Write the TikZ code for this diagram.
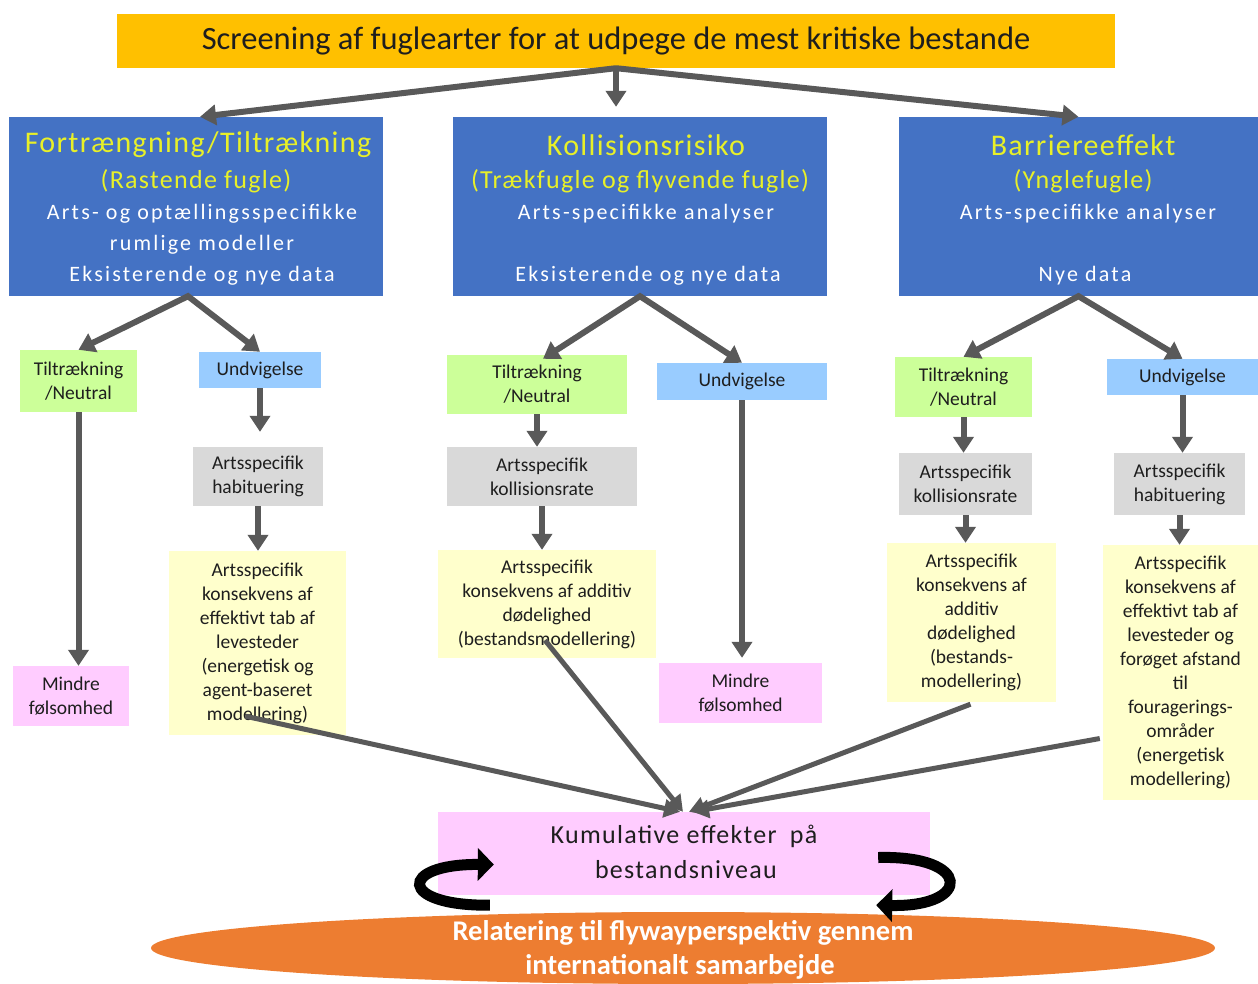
\documentclass[tikz,border=0pt]{standalone}
\usepackage{fontspec}
\setmainfont{Carlito}
\newfontfamily\titlefont[LetterSpace=4.5]{Carlito}
\newfontfamily\subfont[LetterSpace=5]{Carlito}
\newfontfamily\spacedfont[LetterSpace=10]{Carlito}
\newfontfamily\kumfont[LetterSpace=5]{Carlito}
\usetikzlibrary{arrows.meta,calc,shapes.geometric}
\definecolor{topyellow}{RGB}{255,192,0}
\definecolor{bluebg}{RGB}{68,114,196}
\definecolor{titleyellow}{RGB}{232,240,40}
\definecolor{greenbg}{RGB}{204,255,153}
\definecolor{lightblue}{RGB}{153,204,255}
\definecolor{graybg}{RGB}{217,217,217}
\definecolor{paleyellow}{RGB}{255,255,204}
\definecolor{pinkbg}{RGB}{255,204,255}
\definecolor{orangebg}{RGB}{237,125,49}
\definecolor{arrowgray}{RGB}{89,89,89}
\definecolor{textdark}{RGB}{30,30,30}
\tikzset{
  bluebox/.style={fill=bluebg, inner sep=0pt},
  titletxt/.style={inner sep=0pt, text=titleyellow, font=\titlefont\fontsize{30}{32}\selectfont},
  subtxt/.style={inner sep=0pt, text=titleyellow, font=\subfont\fontsize{26}{28}\selectfont},
  whitetxt/.style={inner sep=0pt, text=white, font=\spacedfont\fontsize{22}{24}\selectfont},
  smallbox/.style={inner sep=0pt, align=center, text=textdark, font=\fontsize{19.5}{24}\selectfont},
  arr/.style={draw=arrowgray, line width=6pt, -{Triangle[length=16pt,width=20pt]}},
  arrboth/.style={draw=arrowgray, line width=6pt, line join=miter, {Triangle[length=16pt,width=20pt]}-{Triangle[length=16pt,width=20pt]}},
  conv/.style={draw=arrowgray, line width=5pt, -{Triangle[length=16pt,width=18pt]}},
  curv/.style={draw=black, line width=11pt, -{Triangle[length=16pt,width=32pt]}},
}
\begin{document}
\begin{tikzpicture}[x=1pt,y=-1pt]
\useasboundingbox (0,0) rectangle (1258,983);

% top box
\node[fill=topyellow, minimum width=998, minimum height=54, inner sep=0pt,
      text=textdark, font=\fontsize{32.5}{34}\selectfont] (top) at (616,41)
      {Screening af fuglearter for at udpege de mest kritiske bestande};

% blue boxes
\node[bluebox, minimum width=374, minimum height=179] (L) at (196,206.5) {};
\node[bluebox, minimum width=374, minimum height=179] (M) at (640,206.5) {};
\node[bluebox, minimum width=359, minimum height=179] (R) at (1078.5,206.5) {};

\node[titletxt] (Lt1) at (198,145) {Fortrængning/Tiltrækning};
\node[subtxt]   (Lt2) at (196,181) {(Rastende fugle)};
\node[whitetxt] (Lt3) at (202,214) {Arts- og optællingsspecifikke};
\node[whitetxt] (Lt4) at (202,245) {rumlige modeller};
\node[whitetxt] (Lt5) at (202,276) {Eksisterende og nye data};

\node[titletxt] (Mt1) at (646,145) {Kollisionsrisiko};
\node[subtxt]   (Mt2) at (640,181) {(Trækfugle og flyvende fugle)};
\node[whitetxt] (Mt3) at (646,214) {Arts-specifikke analyser};
\node[whitetxt] (Mt5) at (648,276) {Eksisterende og nye data};

\node[titletxt] (Rt1) at (1083,145) {Barriereeffekt};
\node[subtxt]   (Rt2) at (1083,181) {(Ynglefugle)};
\node[whitetxt] (Rt3) at (1088,214) {Arts-specifikke analyser};
\node[whitetxt] (Rt5) at (1085,276) {Nye data};

% left subtree
\node[smallbox, fill=greenbg, minimum width=117, minimum height=62] (LT) at (78.5,381) {Tiltrækning\\/Neutral};
\node[smallbox, fill=lightblue, minimum width=122, minimum height=36] (LU) at (260,370) {Undvigelse};
\node[smallbox, fill=graybg, minimum width=130, minimum height=59] (LG) at (258,476.5) {Artsspecifik\\habituering};
\node[smallbox, fill=paleyellow, minimum width=177, minimum height=184] (LY) at (257.5,643)
  {Artsspecifik\\konsekvens af\\effektivt tab af\\levesteder\\(energetisk og\\agent-baseret\\modellering)};
\node[smallbox, fill=pinkbg, minimum width=116, minimum height=60] (LP) at (71,696) {Mindre\\følsomhed};

% middle subtree
\node[smallbox, fill=greenbg, minimum width=180, minimum height=59] (MT) at (537,384.5) {Tiltrækning\\/Neutral};
\node[smallbox, fill=lightblue, minimum width=170, minimum height=37] (MU) at (742,381.5) {Undvigelse};
\node[smallbox, fill=graybg, minimum width=190, minimum height=59] (MG) at (542,476.5) {Artsspecifik\\kollisionsrate};
\node[smallbox, fill=paleyellow, minimum width=218, minimum height=108] (MY) at (547,604)
  {Artsspecifik\\konsekvens af additiv\\dødelighed\\(bestandsmodellering)};
\node[smallbox, fill=pinkbg, minimum width=163, minimum height=60] (MP) at (740.5,693) {Mindre\\følsomhed};

% right subtree
\node[smallbox, fill=greenbg, minimum width=137, minimum height=60] (RT) at (963.5,387) {Tiltrækning\\/Neutral};
\node[smallbox, fill=lightblue, minimum width=151, minimum height=36] (RU) at (1182.5,377) {Undvigelse};
\node[smallbox, fill=graybg, minimum width=133, minimum height=62] (RG1) at (965.5,484) {Artsspecifik\\kollisionsrate};
\node[smallbox, fill=graybg, minimum width=131, minimum height=62] (RG2) at (1179.5,484) {Artsspecifik\\habituering};
\node[smallbox, fill=paleyellow, minimum width=169, minimum height=159] (RY1) at (971.5,622.5)
  {Artsspecifik\\konsekvens af\\additiv\\dødelighed\\(bestands-\\modellering)};
\node[smallbox, fill=paleyellow, minimum width=155, minimum height=255] (RY2) at (1180.5,672.5)
  {Artsspecifik\\konsekvens af\\effektivt tab af\\levesteder og\\forøget afstand\\til\\fouragerings-\\områder\\(energetisk\\modellering)};

% cumulative box and ellipse
\node[fill=pinkbg, minimum width=492, minimum height=83, inner sep=0pt] (K) at (684,853.5) {};
\node[inner sep=0pt, text=textdark, font=\kumfont\fontsize{26}{28}\selectfont] (Kt1) at (684,836) {Kumulative effekter\hspace{6pt} på};
\node[inner sep=0pt, text=textdark, font=\kumfont\fontsize{26}{28}\selectfont] (Kt2) at (686,870) {bestandsniveau};

\node[ellipse, fill=orangebg, minimum width=1064, minimum height=72, inner sep=0pt] (E) at (683,948) {};
\node[inner sep=0pt, text=white, font=\bfseries\fontsize{28.5}{30}\selectfont] (Et1) at (683,933) {Relatering til flywayperspektiv gennem};
\node[inner sep=0pt, text=white, font=\bfseries\fontsize{28.5}{30}\selectfont] (Et2) at (680,967) {internationalt samarbejde};

% arrows from top
\draw[arr] (top.south) -- ($(L.north)+(4,0)$);
\draw[arr, shorten >=10pt] (top.south) -- (top.south |- M.north);
\draw[arr] (top.south) -- (R.north);

% chevrons
\draw[arrboth] (LT.north) -- ($(L.south)+(-8,0)$) -- (LU.north);
\draw[arrboth] ($(MT.north)+(6,4)$) -- (M.south) -- (MU.north);
\draw[arrboth] (RT.north) -- (R.south) -- (RU.north);

% verticals
\draw[arr] (LT.south) -- (LT.south |- LP.north);
\draw[arr, shorten >=15pt] (LU.south) -- (LU.south |- LG.north);
\draw[arr] (LG.south) -- (LG.south |- LY.north);
\draw[arr] (MT.south) -- (MT.south |- MG.north);
\draw[arr] (MG.south) -- (MG.south |- MY.north);
\draw[arr, shorten >=5pt] (MU.south) -- (MU.south |- MP.north);
\draw[arr] (RT.south) -- (RT.south |- RG1.north);
\draw[arr] (RG1.south) -- (RG1.south |- RY1.north);
\draw[arr] (RU.south) -- (RU.south |- RG2.north);
\draw[arr] (RG2.south) -- (RG2.south |- RY2.north);

% converging to cumulative
\coordinate (LYo) at ($(LY.south)+(-12,-19)$);
\coordinate (MYo) at ($(MY.south)+(-2,-18)$);
\coordinate (RY1o) at ($(RY1.south)+(-1,2)$);
\coordinate (RY2o) at ($(RY2.west)+(-3,66)$);
\draw[conv] (LYo) -- ($(K.north)+(-4,0)$);
\draw[conv] (MYo) -- ($(K.north)+(-1,0)$);
\draw[conv] (RY1o) -- ($(K.north)+(5,0)$);
\draw[conv] (RY2o) -- ($(K.north)+(9,0)$);

% curved black arrows
\coordinate (cl1) at ($(K.south west)+(52,10)$);
\coordinate (cl2) at ($(K.west)+(56,11)$);
\draw[curv] (cl1) .. controls (398,906) and (398,864) .. (cl2);
\coordinate (cr1) at ($(K.east)+(-52,4)$);
\coordinate (cr2) at ($(K.south east)+(-54,10)$);
\draw[curv] (cr1) .. controls (972,855) and (972,907) .. (cr2);
\end{tikzpicture}
\end{document}
